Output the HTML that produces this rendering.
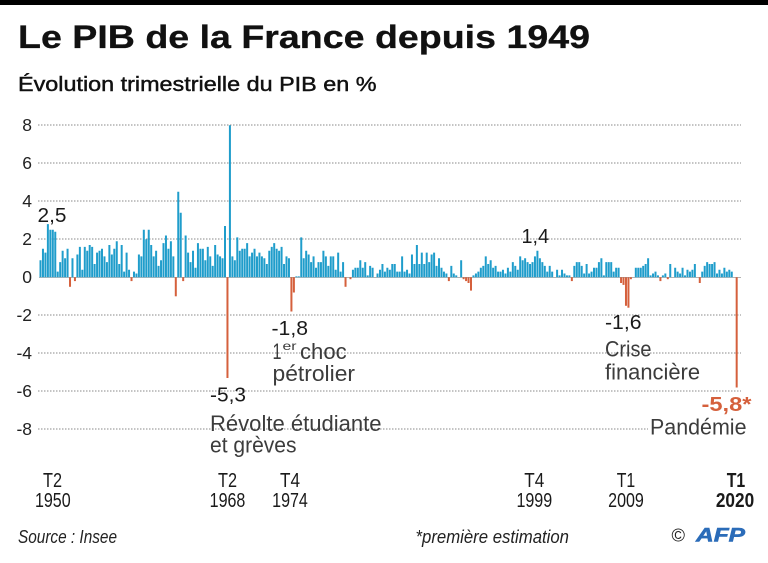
<!DOCTYPE html>
<html><head><meta charset="utf-8">
<style>
html,body{margin:0;padding:0;background:#fff;width:768px;height:563px;overflow:hidden}
svg{display:block}
text{font-family:"Liberation Sans",sans-serif}
</style></head>
<body>
<svg width="768" height="563" viewBox="0 0 768 563" xmlns="http://www.w3.org/2000/svg">
<rect x="0" y="0" width="768" height="5" fill="#000"/>
<text x="18" y="48" font-size="32" font-weight="bold" fill="#111" stroke="#111" stroke-width="0.3" textLength="572" lengthAdjust="spacingAndGlyphs">Le PIB de la France depuis 1949</text>
<text x="18" y="91" font-size="20.5" fill="#111" stroke="#111" stroke-width="0.45" textLength="358.5" lengthAdjust="spacingAndGlyphs">Évolution trimestrielle du PIB en %</text>

<!-- gridlines -->
<g stroke="#8a8a8a" stroke-width="1" stroke-dasharray="1.5 1.5" fill="none">
<line x1="38" y1="125" x2="741" y2="125"/>
<line x1="38" y1="163" x2="741" y2="163"/>
<line x1="38" y1="201" x2="741" y2="201"/>
<line x1="38" y1="239" x2="741" y2="239"/>
<line x1="38" y1="315" x2="741" y2="315"/>
<line x1="38" y1="353" x2="741" y2="353"/>
<line x1="38" y1="391" x2="741" y2="391"/>
<line x1="38" y1="429" x2="648" y2="429"/>
</g>
<line x1="39" y1="277.4" x2="741" y2="277.4" stroke="#999" stroke-width="0.8"/>

<!-- y labels -->
<g font-size="17.5" fill="#222" text-anchor="end">
<text x="32" y="131">8</text>
<text x="32" y="169">6</text>
<text x="32" y="207">4</text>
<text x="32" y="245">2</text>
<text x="32" y="283">0</text>
<text x="32" y="321">-2</text>
<text x="32" y="359">-4</text>
<text x="32" y="397">-6</text>
<text x="32" y="435">-8</text>
</g>

<!-- blue bars -->
<g transform="translate(39.5 277.3) scale(1 -19)">
<path fill="#1f9dcb" d="M0 0
v.9h2v-.9m.46 0 v1.5h2v-1.5m.46 0 v1.3h2v-1.3m.46 0 v2.8h2v-2.8m.46 0 v2.5h2v-2.5m.46 0 v2.5h2v-2.5m.46 0 v2.4h2v-2.4m.46 0 v.3h2v-.3m.46 0 v.8h2v-.8m.46 0 v1.4h2v-1.4m.46 0
v1h2v-1m.46 0 v1.5h2v-1.5m.46 0 m2.46 0 v1h2v-1m.46 0 m2.46 0 v1.2h2v-1.2m.46 0 v1.6h2v-1.6m.46 0 v.4h2v-.4m.46 0 v1.6h2v-1.6m.46 0 v1.4h2v-1.4m.46 0
v1.7h2v-1.7m.46 0 v1.6h2v-1.6m.46 0 v.7h2v-.7m.46 0 v1.3h2v-1.3m.46 0 v1.4h2v-1.4m.46 0 v1.5h2v-1.5m.46 0 v1.1h2v-1.1m.46 0 v.8h2v-.8m.46 0 v1.7h2v-1.7m.46 0 v1.2h2v-1.2m.46 0
v1.5h2v-1.5m.46 0 v1.9h2v-1.9m.46 0 v.7h2v-.7m.46 0 v1.7h2v-1.7m.46 0 v.3h2v-.3m.46 0 v1.3h2v-1.3m.46 0 v.4h2v-.4m.46 0 m2.46 0 v.3h2v-.3m.46 0 v.2h2v-.2m.46 0
v1.2h2v-1.2m.46 0 v1.1h2v-1.1m.46 0 v2.5h2v-2.5m.46 0 v2h2v-2m.46 0 v2.5h2v-2.5m.46 0 v1.7h2v-1.7m.46 0 v1.1h2v-1.1m.46 0 v1.4h2v-1.4m.46 0 v.6h2v-.6m.46 0 v.9h2v-.9m.46 0
v1.8h2v-1.8m.46 0 v2.2h2v-2.2m.46 0 v1.5h2v-1.5m.46 0 v1.9h2v-1.9m.46 0 v1.1h2v-1.1m.46 0 m2.46 0 v4.5h2v-4.5m.46 0 v3.4h2v-3.4m.46 0 m2.46 0 v2.2h2v-2.2m.46 0
v1.3h2v-1.3m.46 0 v.8h2v-.8m.46 0 v1.4h2v-1.4m.46 0 v.5h2v-.5m.46 0 v1.8h2v-1.8m.46 0 v1.5h2v-1.5m.46 0 v1.5h2v-1.5m.46 0 v.9h2v-.9m.46 0 v1.6h2v-1.6m.46 0 v1.1h2v-1.1m.46 0
v.6h2v-.6m.46 0 v1.7h2v-1.7m.46 0 v1.2h2v-1.2m.46 0 v1.1h2v-1.1m.46 0 v1h2v-1m.46 0 v2.7h2v-2.7m.46 0 m2.46 0 v8h2v-8m.46 0 v1.1h2v-1.1m.46 0 v.9h2v-.9m.46 0
v2.1h2v-2.1m.46 0 v1.4h2v-1.4m.46 0 v1.5h2v-1.5m.46 0 v1.5h2v-1.5m.46 0 v1.8h2v-1.8m.46 0 v1.1h2v-1.1m.46 0 v1.3h2v-1.3m.46 0 v1.5h2v-1.5m.46 0 v1.1h2v-1.1m.46 0 v1.3h2v-1.3m.46 0
v1.1h2v-1.1m.46 0 v1h2v-1m.46 0 v.7h2v-.7m.46 0 v1.4h2v-1.4m.46 0 v1.6h2v-1.6m.46 0 v1.8h2v-1.8m.46 0 v1.5h2v-1.5m.46 0 v1.4h2v-1.4m.46 0 v1.6h2v-1.6m.46 0 v.7h2v-.7m.46 0
v1.1h2v-1.1m.46 0 v1h2v-1m.46 0 m2.46 0 m2.46 0 v.05h2v-.05m.46 0 v.05h2v-.05m.46 0 v2.1h2v-2.1m.46 0 v1h2v-1m.46 0 v1.4h2v-1.4m.46 0 v1.2h2v-1.2m.46 0
v.8h2v-.8m.46 0 v1.1h2v-1.1m.46 0 v.5h2v-.5m.46 0 v.8h2v-.8m.46 0 v.8h2v-.8m.46 0 v1.4h2v-1.4m.46 0 v1.1h2v-1.1m.46 0 v.6h2v-.6m.46 0 v1.1h2v-1.1m.46 0 v1.1h2v-1.1m.46 0
v.4h2v-.4m.46 0 v1.3h2v-1.3m.46 0 v.3h2v-.3m.46 0 v.8h2v-.8m.46 0 m2.46 0 m2.46 0 m2.46 0 v.4h2v-.4m.46 0 v.5h2v-.5m.46 0 v.5h2v-.5m.46 0
v.9h2v-.9m.46 0 v.5h2v-.5m.46 0 v.8h2v-.8m.46 0 v.1h2v-.1m.46 0 v.6h2v-.6m.46 0 v.5h2v-.5m.46 0 m2.46 0 v.2h2v-.2m.46 0 v.4h2v-.4m.46 0 v.7h2v-.7m.46 0
v.3h2v-.3m.46 0 v.5h2v-.5m.46 0 v.4h2v-.4m.46 0
v.7h2v-.7m.46 0 v.7h2v-.7m.46 0 v.3h2v-.3m.46 0 v.3h2v-.3m.46 0 v1.1h2v-1.1m.46 0 v.3h2v-.3m.46 0 v.4h2v-.4m.46 0 v.2h2v-.2m.46 0 v1.2h2v-1.2m.46 0 v.7h2v-.7m.46 0
v1.7h2v-1.7m.46 0 v.7h2v-.7m.46 0 v1.3h2v-1.3m.46 0 v.7h2v-.7m.46 0 v1.3h2v-1.3m.46 0 v.8h2v-.8m.46 0 v1.2h2v-1.2m.46 0 v1.3h2v-1.3m.46 0 v.6h2v-.6m.46 0 v1h2v-1m.46 0
v.5h2v-.5m.46 0 v.3h2v-.3m.46 0 v.2h2v-.2m.46 0 m2.46 0 v.6h2v-.6m.46 0 v.2h2v-.2m.46 0 v.1h2v-.1m.46 0 m2.46 0 v.9h2v-.9m.46 0 m2.46 0
m2.46 0 m2.46 0 m2.46 0 v.1h2v-.1m.46 0 v.2h2v-.2m.46 0 v.3h2v-.3m.46 0 v.5h2v-.5m.46 0 v.6h2v-.6m.46 0 v1.1h2v-1.1m.46 0 v.7h2v-.7m.46 0
v.9h2v-.9m.46 0 v.5h2v-.5m.46 0 v.6h2v-.6m.46 0 v.3h2v-.3m.46 0 v.3h2v-.3m.46 0 v.4h2v-.4m.46 0 v.2h2v-.2m.46 0 v.5h2v-.5m.46 0 v.3h2v-.3m.46 0 v.8h2v-.8m.46 0
v.6h2v-.6m.46 0 v.4h2v-.4m.46 0 v1.1h2v-1.1m.46 0 v.9h2v-.9m.46 0 v1h2v-1m.46 0 v.8h2v-.8m.46 0 v.7h2v-.7m.46 0 v.8h2v-.8m.46 0 v1.1h2v-1.1m.46 0 v1.4h2v-1.4m.46 0
v1h2v-1m.46 0 v.8h2v-.8m.46 0 v.6h2v-.6m.46 0 v.3h2v-.3m.46 0 v.6h2v-.6m.46 0 v.3h2v-.3m.46 0 m2.46 0 v.4h2v-.4m.46 0 v.1h2v-.1m.46 0
v.4h2v-.4m.46 0 v.2h2v-.2m.46 0 v.1h2v-.1m.46 0 v.1h2v-.1m.46 0 m2.46 0 v.6h2v-.6m.46 0 v.8h2v-.8m.46 0 v.8h2v-.8m.46 0 v.6h2v-.6m.46 0 v.2h2v-.2m.46 0
v.7h2v-.7m.46 0 v.2h2v-.2m.46 0 v.3h2v-.3m.46 0 v.5h2v-.5m.46 0 v.5h2v-.5m.46 0 v.8h2v-.8m.46 0 v1h2v-1m.46 0 v.1h2v-.1m.46 0 v.8h2v-.8m.46 0 v.8h2v-.8m.46 0
v.8h2v-.8m.46 0 v.3h2v-.3m.46 0 v.5h2v-.5m.46 0 v.5h2v-.5m.46 0 m2.46 0 m2.46 0 m2.46 0 m2.46 0 m2.46 0 m2.46 0
v.5h2v-.5m.46 0 v.5h2v-.5m.46 0 v.5h2v-.5m.46 0 v.6h2v-.6m.46 0 v.7h2v-.7m.46 0 v1h2v-1m.46 0 v.1h2v-.1m.46 0 v.2h2v-.2m.46 0 v.3h2v-.3m.46 0 v.1h2v-.1m.46 0
m2.46 0 v.1h2v-.1m.46 0 v.2h2v-.2m.46 0 m2.46 0 v.7h2v-.7m.46 0 m2.46 0 v.5h2v-.5m.46 0 v.3h2v-.3m.46 0 v.2h2v-.2m.46 0 v.5h2v-.5m.46 0
v.1h2v-.1m.46 0 v.4h2v-.4m.46 0 v.3h2v-.3m.46 0 v.4h2v-.4m.46 0 v.7h2v-.7m.46 0 m2.46 0 m2.46 0 v.3h2v-.3m.46 0 v.6h2v-.6m.46 0 v.8h2v-.8m.46 0
v.7h2v-.7m.46 0 v.7h2v-.7m.46 0 v.8h2v-.8m.46 0 v.2h2v-.2m.46 0 v.4h2v-.4m.46 0 v.2h2v-.2m.46 0 v.5h2v-.5m.46 0 v.3h2v-.3m.46 0 v.4h2v-.4m.46 0 v.3h2v-.3m.46 0"/>
</g>

<!-- red bars -->
<g fill="#d5603c">
<rect x="69.02" y="277.3" width="2" height="9.5"/>
<rect x="73.94" y="277.3" width="2" height="3.8"/>
<rect x="130.52" y="277.3" width="2" height="3.8"/>
<rect x="174.8" y="277.3" width="2" height="19"/>
<rect x="182.18" y="277.3" width="2" height="3.8"/>
<rect x="226.46" y="277.3" width="2" height="100.7"/>
<rect x="290.42" y="277.3" width="2" height="34.2"/>
<rect x="292.88" y="277.3" width="2" height="15.2"/>
<rect x="344.54" y="277.3" width="2" height="9.5"/>
<rect x="349.46" y="277.3" width="2" height="1.9"/>
<rect x="447.86" y="277.3" width="2" height="3.8"/>
<rect x="462.62" y="277.3" width="2" height="1.9"/>
<rect x="465.08" y="277.3" width="2" height="3.8"/>
<rect x="467.54" y="277.3" width="2" height="5.7"/>
<rect x="470.0" y="277.3" width="2" height="13.3"/>
<rect x="570.86" y="277.3" width="2" height="3.8"/>
<rect x="620.06" y="277.3" width="2" height="5.7"/>
<rect x="622.52" y="277.3" width="2" height="7.6"/>
<rect x="624.98" y="277.3" width="2" height="28.5"/>
<rect x="627.44" y="277.3" width="2" height="30.4"/>
<rect x="629.9" y="277.3" width="2" height="1.9"/>
<rect x="659.42" y="277.3" width="2" height="3.8"/>
<rect x="666.8" y="277.3" width="2" height="1.9"/>
<rect x="698.78" y="277.3" width="2" height="5.7"/>
<rect x="735.68" y="277.3" width="2" height="110.2"/>
</g>

<!-- annotations -->
<g fill="#1a1a1a" font-size="20">
<text x="37.5" y="222" textLength="29" lengthAdjust="spacingAndGlyphs">2,5</text>
<text x="521.5" y="243" textLength="27.5" lengthAdjust="spacingAndGlyphs">1,4</text>
<text x="271.5" y="335" textLength="36.5" lengthAdjust="spacingAndGlyphs">-1,8</text>
<text x="210" y="401.5" textLength="36" lengthAdjust="spacingAndGlyphs">-5,3</text>
<text x="605" y="329" textLength="36.5" lengthAdjust="spacingAndGlyphs">-1,6</text>
</g>
<text x="701.5" y="411" font-size="20" font-weight="bold" fill="#d5603c" textLength="50" lengthAdjust="spacingAndGlyphs">-5,8*</text>

<g fill="#3c3c3c" font-size="22">
<text x="272.5" y="359" textLength="9" lengthAdjust="spacingAndGlyphs">1</text>
<text x="282.5" y="350" font-size="12" textLength="14" lengthAdjust="spacingAndGlyphs">er</text>
<text x="300" y="359" textLength="46.7" lengthAdjust="spacingAndGlyphs">choc</text>
<text x="272.5" y="381" textLength="82.5" lengthAdjust="spacingAndGlyphs">pétrolier</text>
<text x="210" y="431" textLength="171.5" lengthAdjust="spacingAndGlyphs">Révolte étudiante</text>
<text x="210" y="452.5" textLength="86.5" lengthAdjust="spacingAndGlyphs">et grèves</text>
<text x="605" y="356.5" textLength="46.5" lengthAdjust="spacingAndGlyphs">Crise</text>
<text x="605" y="379.5" textLength="95" lengthAdjust="spacingAndGlyphs">financière</text>
<text x="650" y="434.5" textLength="96.5" lengthAdjust="spacingAndGlyphs">Pandémie</text>
</g>

<!-- x labels -->
<g fill="#1a1a1a" font-size="20" text-anchor="middle">
<text x="52.5" y="487" textLength="19" lengthAdjust="spacingAndGlyphs">T2</text>
<text x="52.8" y="507" textLength="35.7" lengthAdjust="spacingAndGlyphs">1950</text>
<text x="227.5" y="487" textLength="19" lengthAdjust="spacingAndGlyphs">T2</text>
<text x="227.5" y="507" textLength="35.7" lengthAdjust="spacingAndGlyphs">1968</text>
<text x="290" y="487" textLength="20" lengthAdjust="spacingAndGlyphs">T4</text>
<text x="290" y="507" textLength="35.7" lengthAdjust="spacingAndGlyphs">1974</text>
<text x="534.3" y="487" textLength="20" lengthAdjust="spacingAndGlyphs">T4</text>
<text x="534.3" y="507" textLength="35.7" lengthAdjust="spacingAndGlyphs">1999</text>
<text x="626" y="487" textLength="18.5" lengthAdjust="spacingAndGlyphs">T1</text>
<text x="626" y="507" textLength="35.7" lengthAdjust="spacingAndGlyphs">2009</text>
<text x="736" y="487" font-weight="bold" textLength="18.5" lengthAdjust="spacingAndGlyphs">T1</text>
<text x="735" y="507" font-weight="bold" textLength="38.3" lengthAdjust="spacingAndGlyphs">2020</text>
</g>

<!-- footer -->
<text x="18" y="543" font-size="18" font-style="italic" fill="#222" textLength="99" lengthAdjust="spacingAndGlyphs">Source : Insee</text>
<text x="415.5" y="543" font-size="18" font-style="italic" fill="#222" textLength="153.5" lengthAdjust="spacingAndGlyphs">*première estimation</text>
<text x="671.5" y="541.5" font-size="18" fill="#222" textLength="13.5" lengthAdjust="spacingAndGlyphs">©</text>
<text x="696" y="541.5" font-size="19" font-weight="bold" font-style="italic" fill="#2b6cb9" stroke="#2b6cb9" stroke-width="0.6" textLength="49" lengthAdjust="spacingAndGlyphs">AFP</text>
</svg>
</body></html>
